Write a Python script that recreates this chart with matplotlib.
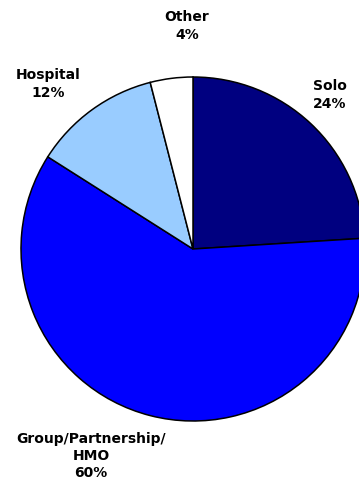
import matplotlib
matplotlib.use("Agg")
import matplotlib.pyplot as plt

categories = ["Solo", "Group/Partnership/\nHMO", "Hospital", "Other"]
values = [24, 60, 12, 4]
pct_labels = ["24%", "60%", "12%", "4%"]
colors = ["#000080", "#0000FF", "#99CCFF", "#FFFFFF"]

W, H = 359, 491
fig = plt.figure(figsize=(W / 100, H / 100), dpi=100)
ax = fig.add_axes([0, 0, 1, 1])

ax.pie(values, colors=colors, startangle=90, counterclock=False,
       center=(193, H - 249), radius=172,
       wedgeprops=dict(edgecolor="black", linewidth=1.1), frame=True)
ax.set_xlim(0, W)
ax.set_ylim(0, H)
ax.set_aspect("equal")
ax.axis("off")

label_pos = [(330, 95), (91, 456), (48, 84), (187, 26)]
for cat, pct, (x, y) in zip(categories, pct_labels, label_pos):
    ax.text(x, H - y, f"{cat}\n{pct}", ha="center", va="center",
            fontsize=10, fontweight="bold", family="DejaVu Sans",
            linespacing=1.3, color="black")

fig.savefig("out.png", dpi=100)
